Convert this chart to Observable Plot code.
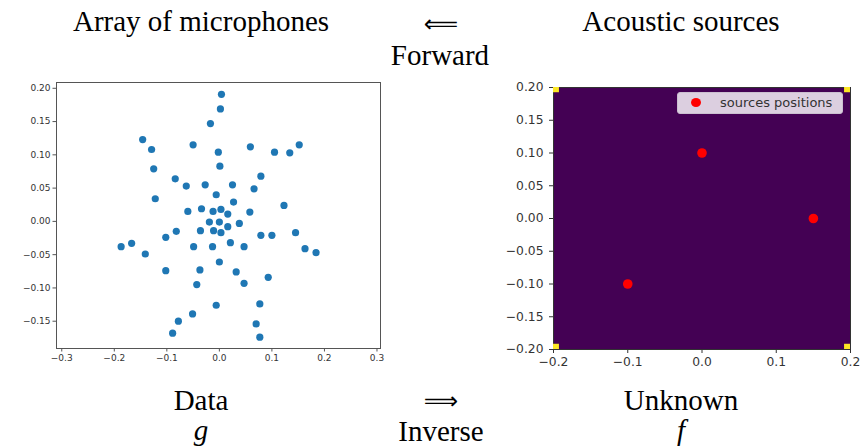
<!DOCTYPE html>
<html>
<head>
<meta charset="utf-8">
<script src="https://cdn.jsdelivr.net/npm/d3@7"></script>
<script src="https://cdn.jsdelivr.net/npm/@observablehq/plot@0.6"></script>
<style>
  html, body { margin: 0; padding: 0; background: #fff; }
  #page { position: relative; width: 862px; height: 448px; overflow: hidden; background: #fff; }
  .t { position: absolute; font-family: "Liberation Serif", serif; font-size: 29px; line-height: 1; color: #000; white-space: nowrap; transform: translateX(-50%); }
  .arrow { position: absolute; font-family: "DejaVu Sans", sans-serif; font-size: 24px; line-height: 1; color: #000; white-space: nowrap; transform: translateX(-50%); }
  .i { font-style: italic; }
  #left, #right { position: absolute; }
  #legend { position: absolute; left: 677px; top: 92px; width: 166px; height: 22px; background: #dccfe0; border: 1px solid #cbbfd0; border-radius: 3px; box-sizing: border-box; font-family: "DejaVu Sans", sans-serif; font-size: 13px; color: #333; }
  #legend .dot { position: absolute; left: 13px; top: 5px; width: 10px; height: 9px; border-radius: 50%; background: red; }
  #legend .lab { position: absolute; left: 42px; top: 3px; line-height: 1; }
</style>
</head>
<body>
<div id="page">
  <div class="t" style="left:201px; top:7px;">Array of microphones</div>
  <div class="arrow" style="left:441px; top:12px;">⟸</div>
  <div class="t" style="left:681px; top:7px;">Acoustic sources</div>
  <div class="t" style="left:440px; top:41px;">Forward</div>
  <div id="left" style="left:0px; top:75px;"></div>
  <div id="right" style="left:490px; top:75px;"></div>
  <div id="legend"><span class="dot"></span><span class="lab">sources positions</span></div>
  <div class="t" style="left:201px; top:386px;">Data</div>
  <div class="arrow" style="left:441px; top:389px;">⟹</div>
  <div class="t" style="left:681px; top:386px;">Unknown</div>
  <div class="t i" style="left:201px; top:416px;">g</div>
  <div class="t" style="left:441px; top:417px;">Inverse</div>
  <div class="t i" style="left:681px; top:416px;">f</div>
</div>
<script>
// Microphone positions (left scatter)
const micX = [-0.146,-0.129,-0.125,-0.122,-0.084,-0.063,-0.050,-0.027,-0.017,-0.006,-0.002,0.001,0.004,0.002,-0.060,-0.034,-0.012,0.003,0.059,0.105,0.134,0.152,0.079,0.025,0.066,0.027,0.123,0.016,0.058,-0.019,0.000,0.016,0.038,-0.036,-0.011,0.003,0.079,0.100,0.145,0.021,-0.013,0.047,0.163,0.184,0.000,-0.037,0.032,0.047,0.093,-0.006,0.077,0.070,0.077,-0.187,-0.167,-0.141,-0.102,-0.082,-0.049,-0.102,-0.043,-0.051,-0.078,-0.089];
const micY = [0.123,0.108,0.079,0.034,0.064,0.053,0.115,0.055,0.147,0.040,0.104,0.083,0.191,0.169,0.015,0.019,0.015,0.018,0.112,0.104,0.103,0.115,0.068,0.055,0.049,0.029,0.024,0.011,0.014,-0.001,-0.001,-0.008,-0.003,-0.014,-0.014,-0.017,-0.021,-0.021,-0.017,-0.032,-0.038,-0.038,-0.041,-0.047,-0.061,-0.073,-0.076,-0.093,-0.084,-0.126,-0.124,-0.154,-0.174,-0.038,-0.033,-0.049,-0.024,-0.015,-0.038,-0.074,-0.095,-0.139,-0.150,-0.168];
const leftXTicks = [-0.3,-0.2,-0.1,0.0,0.1,0.2,0.3];
const leftYTicks = [-0.15,-0.10,-0.05,0.00,0.05,0.10,0.15,0.20];

// Acoustic sources (right)
const srcX = [0.0, 0.15, -0.1];
const srcY = [0.1, 0.0, -0.1];
const cornerX = [-0.2, 0.2, -0.2, 0.2];
const cornerY = [0.2, 0.2, -0.2, -0.2];
const gridStep = 0.008;
const rightXTicks = [-0.2,-0.1,0.0,0.1,0.2];
const rightYTicks = [-0.20,-0.15,-0.10,-0.05,0.00,0.05,0.10,0.15,0.20];

const mics = micX.map((x, i) => ({x, y: micY[i]}));
const sources = srcX.map((x, i) => ({x, y: srcY[i]}));
const corners = cornerX.map((x, i) => ({
  x1: x < 0 ? x : x - gridStep, x2: x < 0 ? x + gridStep : x,
  y1: cornerY[i] < 0 ? cornerY[i] : cornerY[i] - gridStep, y2: cornerY[i] < 0 ? cornerY[i] + gridStep : cornerY[i]
}));

const leftPlot = Plot.plot({
  width: 400, height: 300,
  marginLeft: 56, marginRight: 20, marginTop: 7, marginBottom: 27,
  x: {domain: [-0.31, 0.3067]},
  y: {domain: [-0.191, 0.2087]},
  style: {fontFamily: "DejaVu Sans", fontSize: "9px", color: "#333", background: "transparent"},
  marks: [
    Plot.dot(mics, {x: "x", y: "y", r: 3.6, fill: "#1f77b4", stroke: "none"}),
    Plot.frame({stroke: "#555", strokeWidth: 1}),
    Plot.axisX({ticks: leftXTicks, tickFormat: d3.format(".1f"), tickSize: 3.5, tickPadding: 3, label: null, stroke: "#555"}),
    Plot.axisY({ticks: leftYTicks, tickFormat: d3.format(".2f"), tickSize: 3.5, tickPadding: 2.5, label: null, stroke: "#555"})
  ]
});
document.getElementById("left").appendChild(leftPlot);

const rightPlot = Plot.plot({
  width: 372, height: 300,
  marginLeft: 63, marginRight: 12, marginTop: 12, marginBottom: 26,
  x: {domain: [-0.2, 0.2]},
  y: {domain: [-0.2, 0.2]},
  style: {fontFamily: "DejaVu Sans", fontSize: "12.3px", color: "#333", background: "transparent"},
  marks: [
    Plot.frame({fill: "#440154", stroke: "#333"}),
    Plot.rect(corners, {x1: "x1", x2: "x2", y1: "y1", y2: "y2", fill: "#fde725"}),
    Plot.dot(sources, {x: "x", y: "y", r: 4.8, fill: "red", stroke: "none"}),
    Plot.axisX({ticks: rightXTicks, tickFormat: d3.format(".1f"), tickSize: 4, tickPadding: 4, label: null, stroke: "#333"}),
    Plot.axisY({ticks: rightYTicks, tickFormat: d3.format(".2f"), tickSize: 4, tickPadding: 6, label: null, stroke: "#333"})
  ]
});
document.getElementById("right").appendChild(rightPlot);
</script>
</body>
</html>
